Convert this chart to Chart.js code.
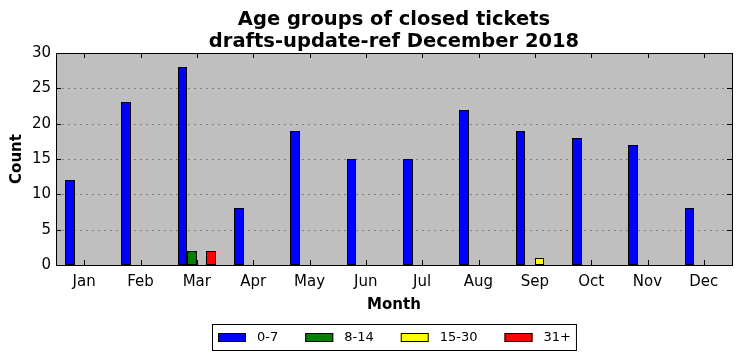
<!DOCTYPE html>
<html>
<head>
<meta charset="utf-8">
<script src="https://cdn.jsdelivr.net/npm/chart.js@4"></script>
<style>
  html, body { margin: 0; padding: 0; background: #fff; }
  #wrap { width: 742px; height: 361px; }
</style>
</head>
<body>
<div id="wrap"><canvas id="ageChart"></canvas></div>
<script>
const months = ["Jan", "Feb", "Mar", "Apr", "May", "Jun", "Jul", "Aug", "Sep", "Oct", "Nov", "Dec"];
const age0to7 = [12, 23, 28, 8, 19, 15, 15, 22, 19, 18, 17, 8];
const age8to14 = [0, 0, 2, 0, 0, 0, 0, 0, 0, 0, 0, 0];
const age15to30 = [0, 0, 0, 0, 0, 0, 0, 0, 1, 0, 0, 0];
const age31plus = [0, 0, 2, 0, 0, 0, 0, 0, 0, 0, 0, 0];
const yTicks = [0, 5, 10, 15, 20, 25, 30];

const FONT = "'DejaVu Sans', sans-serif";

// grey plot background, dotted grid, black frame and inward tick marks
const axesStyle = {
  id: 'axesStyle',
  afterLayout(chart) {
    // centre the title over the plot area, like matplotlib does
    const a = chart.chartArea;
    chart.titleBlock.left = a.left;
    chart.titleBlock.right = a.right;
    chart.titleBlock.width = a.right - a.left;
  },
  beforeDatasetsDraw(chart) {
    const { ctx, chartArea: a } = chart;
    // snap bars to whole pixels so the black edges stay crisp
    chart.data.datasets.forEach((d, di) => {
      chart.getDatasetMeta(di).data.forEach(el => {
        const l = Math.round(el.x - el.width / 2);
        const r = Math.round(el.x + el.width / 2);
        el.x = (l + r) / 2;
        el.width = r - l;
        el.y = Math.round(el.y);
        el.base = Math.round(el.base);
      });
    });
    ctx.save();
    ctx.fillStyle = '#bfbfbf';
    ctx.fillRect(a.left, a.top, a.right - a.left, a.bottom - a.top);
    ctx.strokeStyle = '#7f7f7f';
    ctx.lineWidth = 1;
    ctx.setLineDash([2, 4]);
    const y = chart.scales.y;
    yTicks.forEach(v => {
      if (v === 0 || v === 30) return;
      const py = Math.round(y.getPixelForValue(v)) + 0.5;
      ctx.beginPath();
      ctx.moveTo(a.left, py);
      ctx.lineTo(a.right, py);
      ctx.stroke();
    });
    ctx.restore();
  },
  afterDatasetsDraw(chart) {
    const { ctx, chartArea: a } = chart;
    const x = chart.scales.x, y = chart.scales.y;
    ctx.save();
    ctx.strokeStyle = '#000';
    ctx.lineWidth = 1;
    ctx.beginPath();
    months.forEach((m, i) => {
      const px = Math.round(x.getPixelForTick(i)) + 0.5;
      ctx.moveTo(px, a.bottom); ctx.lineTo(px, a.bottom - 5);
      ctx.moveTo(px, a.top); ctx.lineTo(px, a.top + 5);
    });
    yTicks.forEach(v => {
      const py = Math.round(y.getPixelForValue(v)) + 0.5;
      ctx.moveTo(a.left, py); ctx.lineTo(a.left + 5, py);
      ctx.moveTo(a.right, py); ctx.lineTo(a.right - 5, py);
    });
    ctx.stroke();
    ctx.strokeRect(Math.round(a.left) + 0.5, Math.round(a.top) + 0.5,
      Math.round(a.right - a.left), Math.round(a.bottom - a.top));
    ctx.restore();
  },
  // boxed legend below the axis, centred on the plot
  afterDraw(chart) {
    const { ctx, chartArea: a } = chart;
    const sets = chart.data.datasets;
    ctx.save();
    ctx.font = "13px " + FONT;
    const patchW = 28, patchH = 9, gap = 11, itemGap = 27, pad = 5;
    const widths = sets.map(d => patchW + gap + ctx.measureText(d.label).width);
    const total = widths.reduce((s, w) => s + w, 0) + itemGap * (sets.length - 1);
    let cx = Math.round((a.left + a.right) / 2 - total / 2);
    const midY = 338;
    ctx.strokeStyle = '#000';
    ctx.lineWidth = 1;
    ctx.strokeRect(cx - pad - 0.5, 324.5, total + pad * 2 + 1, 26);
    ctx.textBaseline = 'middle';
    sets.forEach((d, i) => {
      ctx.fillStyle = d.backgroundColor;
      ctx.fillRect(cx, midY - 5, patchW, patchH);
      ctx.strokeRect(cx + 0.5, midY - 4.5, patchW - 1, patchH - 1);
      ctx.fillStyle = '#000';
      ctx.fillText(d.label, cx + patchW + gap, midY);
      cx += widths[i] + itemGap;
    });
    ctx.restore();
  }
};

const barStyle = (label, data, color) => ({
  label: label,
  data: data,
  backgroundColor: color,
  borderColor: '#000',
  borderWidth: 1,
  borderSkipped: false,
  categoryPercentage: 0.68,
  barPercentage: 1.0
});

const ctx = document.getElementById('ageChart').getContext('2d');
new Chart(ctx, {
  type: 'bar',
  data: {
    labels: months,
    datasets: [
      barStyle('0-7', age0to7, '#0000ff'),
      barStyle('8-14', age8to14, '#008000'),
      barStyle('15-30', age15to30, '#ffff00'),
      barStyle('31+', age31plus, '#ff0000')
    ]
  },
  options: {
    responsive: true,
    maintainAspectRatio: false,
    animation: false,
    layout: { padding: { left: 0, right: 10, top: 0, bottom: 44 } },
    plugins: {
      title: {
        display: true,
        text: ['Age groups of closed tickets', 'drafts-update-ref December 2018'],
        color: '#000',
        font: { family: FONT, size: 19.5, weight: 'bold', lineHeight: 1.128 },
        padding: { top: 9, bottom: 0 }
      },
      legend: { display: false },
      tooltip: { enabled: false }
    },
    scales: {
      x: {
        grid: { display: false, drawTicks: false },
        border: { display: false },
        ticks: { color: '#000', font: { family: FONT, size: 15 }, padding: 8, maxRotation: 0 },
        title: {
          display: true, text: 'Month', color: '#000',
          font: { family: FONT, size: 15, weight: 'bold' },
          padding: { top: 0, bottom: 3 }
        },
        afterFit(scale) { scale.height = 52; }
      },
      y: {
        min: 0,
        max: 30,
        grid: { display: false, drawTicks: false },
        border: { display: false },
        ticks: { color: '#000', font: { family: FONT, size: 15 }, stepSize: 5, padding: 5 },
        title: {
          display: true, text: 'Count', color: '#000',
          font: { family: FONT, size: 15, weight: 'bold' },
          padding: { top: 8, bottom: 0 }
        },
        afterFit(scale) { scale.width = 56; }
      }
    }
  },
  plugins: [axesStyle]
});
</script>
</body>
</html>
